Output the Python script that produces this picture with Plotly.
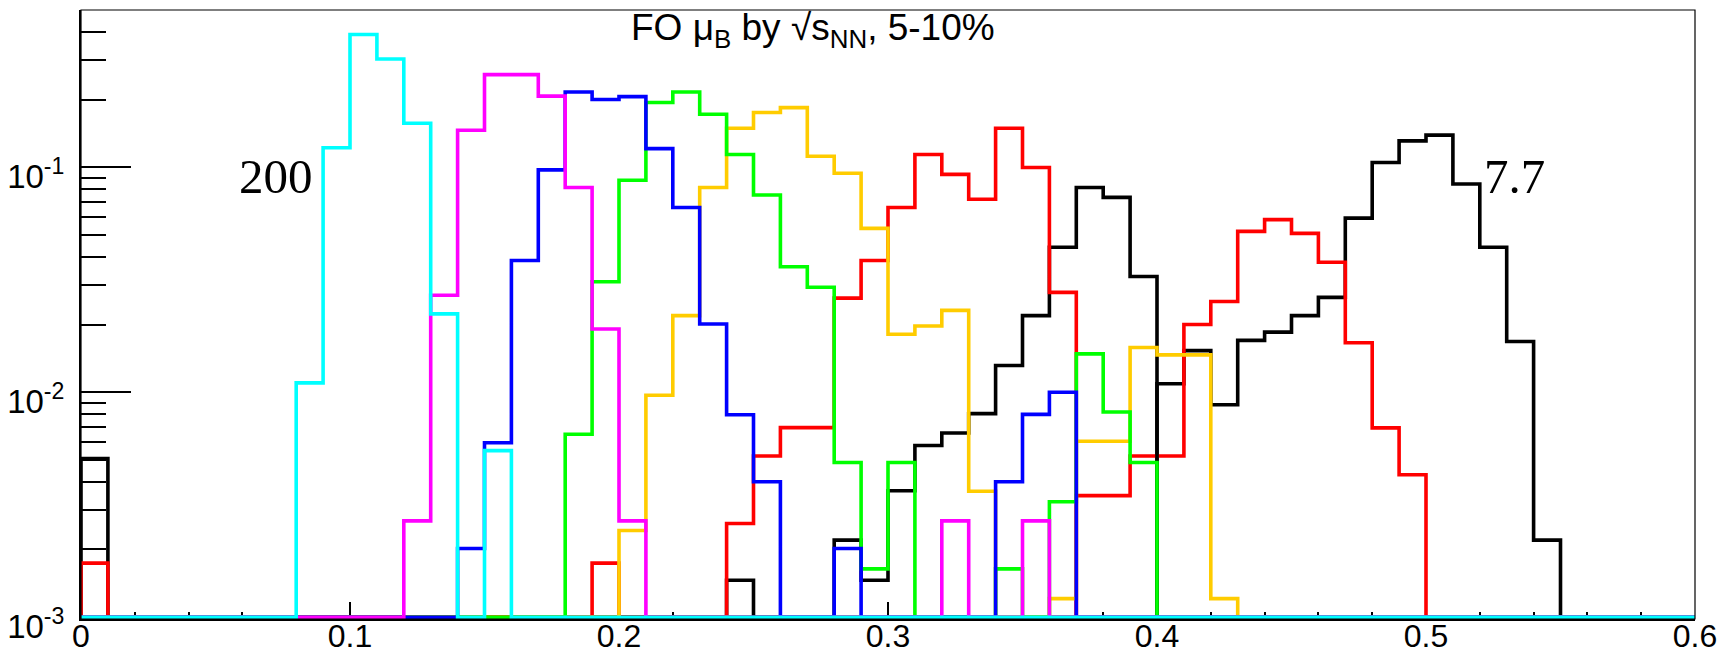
import numpy as np
import plotly.graph_objects as go

# ---------------- data: 60 bins of width 0.01 on [0, 0.6] ----------------
N_BINS = 60
X_MIN, X_MAX = 0.0, 0.6
Y_FLOOR = 1e-3          # empty bins are drawn on the axis floor (log scale)
Y_TOP = 0.5

# fraction of events per mu_B bin, one histogram per collision energy
h_7p7 = [0.00507] + [0] * 39 + [
    0.0109, 0.0153, 0.0088, 0.0170, 0.0185, 0.0219, 0.0264, 0.0594, 0.105, 0.131,
    0.139, 0.0842, 0.0441, 0.0168, 0.0022] + [0] * 5

h_11p5 = [0.00174] + [0] * 36 + [
    0.00347, 0.00347, 0.00521, 0.00521, 0.0200, 0.0253, 0.0519, 0.0585, 0.0508,
    0.0378, 0.0166, 0.00694, 0.0043] + [0] * 10

h_14p5 = [0] * 24 + [0.00146, 0, 0, 0, 0.0022, 0.00146, 0.00365, 0.0058, 0.00659,
                     0.00803, 0.01315, 0.0219, 0.0441, 0.0813, 0.0735, 0.0327] + [0] * 20

h_19p6 = [0] * 19 + [0.00174, 0, 0, 0, 0, 0.00261, 0.00521, 0.00696, 0.00696, 0.0262,
                     0.0385, 0.0662, 0.114, 0.093, 0.0721, 0.149, 0.0998, 0.0278] + [0] * 23

h_27 = [0] * 20 + [0.00243, 0.0097, 0.0219, 0.0813, 0.149, 0.175, 0.184, 0.112, 0.094,
                   0.0535, 0.0181, 0.0197, 0.0231, 0.00363, 0, 0, 0.00121, 0.00605,
                   0.00605, 0.0158, 0.01466, 0.01466, 0.00121] + [0] * 17

h_39 = [0] * 18 + [0.0065, 0.031, 0.0875, 0.194, 0.216, 0.172, 0.114, 0.0753, 0.0361,
                   0.0293, 0.00487, 0.00164, 0.00487, 0, 0, 0, 0.00164, 0, 0.00326,
                   0.0148, 0.00817, 0.00487] + [0] * 20

h_54p4 = [0] * 14 + [0.00202, 0.00596, 0.0385, 0.0973, 0.216, 0.200, 0.206, 0.121,
                     0.0662, 0.0201, 0.00794, 0.0040, 0, 0, 0.00202, 0, 0, 0, 0, 0,
                     0.0040, 0.00797, 0.0100] + [0] * 23

h_62p4 = [0] * 12 + [0.00268, 0.027, 0.146, 0.258, 0.258, 0.207, 0.0813, 0.0191,
                     0.00268] + [0] * 11 + [0.00268, 0, 0, 0.00268] + [0] * 24

h_200 = [0] * 8 + [0.011, 0.122, 0.389, 0.303, 0.157, 0.0223, 0, 0.0055] + [0] * 44

series_names = ["7.7", "11.5", "14.5", "19.6", "27", "39", "54.4", "62.4", "200"]
series_values = [h_7p7, h_11p5, h_14p5, h_19p6, h_27, h_39, h_54p4, h_62p4, h_200]
series_colors = ["#000000", "#ff0000", "#000000", "#ff0000", "#ffcc00",
                 "#00ff00", "#0000ff", "#ff00ff", "#00ffff"]

x_tick_vals = [0, 0.1, 0.2, 0.3, 0.4, 0.5, 0.6]
x_tick_text = ["0", "0.1", "0.2", "0.3", "0.4", "0.5", "0.6"]
y_tick_vals = [1e-3, 1e-2, 1e-1]
y_tick_text = ["10<sup>-3</sup>", "10<sup>-2</sup>", "10<sup>-1</sup>"]
y_minor_vals = ([k * 1e-3 for k in range(2, 10)] + [k * 1e-2 for k in range(2, 10)]
                + [0.2, 0.3, 0.4, 0.5])

title_text = "FO μ<sub>B</sub> by √s<sub>NN</sub>, 5-10%"

# ---------------- figure ----------------
edges = np.linspace(X_MIN, X_MAX, N_BINS + 1)

fig = go.Figure()
for name, vals, col in zip(series_names, series_values, series_colors):
    h = np.asarray(vals, dtype=float)
    assert len(h) == N_BINS, (name, len(h))
    hy = np.where(h > 0, h, Y_FLOOR)
    xs = np.concatenate([[edges[0]], edges[:-1], [edges[-1]], [edges[-1]]])
    ys = np.concatenate([[Y_FLOOR], hy, [hy[-1]], [Y_FLOOR]])
    fig.add_trace(go.Scatter(
        x=xs, y=ys, mode="lines", name=name, showlegend=False,
        line=dict(color=col, width=3.6, shape="hv"),
        hoverinfo="skip"))

FONT = "Liberation Sans, Arial, Helvetica, sans-serif"

fig.update_layout(
    width=1733, height=655,
    margin=dict(l=81, r=38, t=10, b=36),
    paper_bgcolor="white", plot_bgcolor="white",
    font=dict(family=FONT, size=30, color="black"),
    xaxis=dict(
        range=[X_MIN, X_MAX], showgrid=False, zeroline=False, automargin=False,
        showline=True, linecolor="black", linewidth=2,
        tickmode="array", tickvals=x_tick_vals, ticktext=x_tick_text,
        ticks="inside", ticklen=17, tickwidth=1.5, tickcolor="black",
        minor=dict(ticks="inside", dtick=0.02, ticklen=7, tickwidth=1.5,
                   tickcolor="black", showgrid=False),
        tickfont=dict(family=FONT, size=32),
        ticklabelstandoff=-12,
        layer="below traces",
    ),
    yaxis=dict(
        type="log", range=[np.log10(Y_FLOOR) - 0.008, np.log10(Y_TOP)],
        showgrid=False, zeroline=False, automargin=False,
        showline=True, linecolor="black", linewidth=2,
        tickmode="array", tickvals=y_tick_vals, ticktext=y_tick_text,
        ticks="inside", ticklen=50, tickwidth=2, tickcolor="black",
        minor=dict(ticks="inside", tickmode="array", tickvals=y_minor_vals,
                   ticklen=25, tickwidth=2, tickcolor="black", showgrid=False),
        tickfont=dict(family=FONT, size=33),
        ticklabelstandoff=8,
        ticklabelshift=9,
        layer="below traces",
    ),
    shapes=[dict(type="rect", xref="paper", yref="paper", x0=0, x1=1, y0=0, y1=1,
                 line=dict(color="black", width=1.2), layer="above")],
)

fig.add_annotation(text=title_text, xref="paper", yref="paper",
                   x=0.4535, y=1.008, xanchor="center", yanchor="top",
                   showarrow=False, font=dict(family=FONT, size=37, color="black"))
fig.add_annotation(text="200", xref="x", yref="y", x=0.0725, y=-1.04,
                   xanchor="center", yanchor="middle", showarrow=False,
                   font=dict(family="Liberation Serif, Times New Roman, serif",
                             size=49, color="black"))
fig.add_annotation(text="7.7", xref="x", yref="y", x=0.533, y=-1.04,
                   xanchor="center", yanchor="middle", showarrow=False,
                   font=dict(family="Liberation Serif, Times New Roman, serif",
                             size=49, color="black"))

fig.write_html("out.html")
